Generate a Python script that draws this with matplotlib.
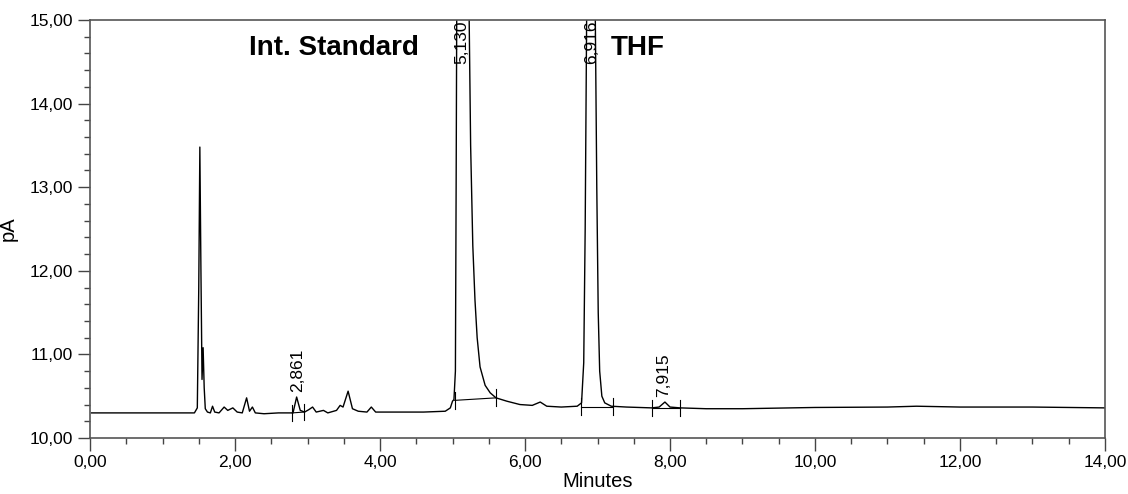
import matplotlib
matplotlib.use('Agg')
import matplotlib.pyplot as plt
from matplotlib.ticker import MultipleLocator

plt.rcParams['font.family'] = ['Liberation Sans', 'DejaVu Sans']

# Chromatogram trace (minutes, pA)
time_min = [0.02, 0.40, 0.80, 1.20, 1.44, 1.48, 1.50, 1.515, 1.53, 1.545, 1.56, 1.575,
            1.59, 1.62, 1.66, 1.69, 1.72, 1.78, 1.85, 1.90, 1.97, 2.03, 2.10, 2.16,
            2.20, 2.24, 2.28, 2.40, 2.60, 2.80, 2.85, 2.90, 2.96, 3.02, 3.07, 3.12,
            3.22, 3.28, 3.40, 3.45, 3.49, 3.56, 3.62, 3.70, 3.82, 3.88, 3.94, 4.20,
            4.60, 4.90, 4.97, 5.00, 5.02, 5.04, 5.05, 5.06, 5.10, 5.15, 5.20, 5.23,
            5.25, 5.28, 5.31, 5.34, 5.38, 5.45, 5.52, 5.60, 5.75, 5.93, 6.10, 6.21,
            6.30, 6.50, 6.72, 6.78, 6.81, 6.83, 6.85, 6.88, 6.92, 6.95, 6.97, 6.99,
            7.01, 7.03, 7.06, 7.10, 7.19, 7.40, 7.75, 7.85, 7.93, 8.00, 8.14, 8.50,
            9.00, 10.00, 11.00, 11.40, 12.00, 13.00, 14.00]
signal_pa = [10.30, 10.30, 10.30, 10.30, 10.30, 10.36, 11.80, 13.48, 12.00, 10.70, 11.08, 10.60,
             10.35, 10.31, 10.30, 10.38, 10.31, 10.30, 10.37, 10.33, 10.36, 10.31, 10.30, 10.48,
             10.32, 10.37, 10.30, 10.29, 10.30, 10.30, 10.49, 10.33, 10.31, 10.34, 10.37, 10.31,
             10.33, 10.30, 10.33, 10.39, 10.37, 10.56, 10.35, 10.32, 10.31, 10.37, 10.31, 10.31,
             10.31, 10.32, 10.36, 10.44, 10.46, 10.80, 13.00, 15.50, 17.50, 17.80, 16.50, 15.00,
             13.50, 12.30, 11.65, 11.20, 10.85, 10.63, 10.54, 10.48, 10.44, 10.40, 10.39, 10.43,
             10.38, 10.37, 10.38, 10.42, 10.90, 12.50, 15.00, 16.50, 17.00, 16.30, 15.00, 13.00,
             11.50, 10.80, 10.50, 10.42, 10.38, 10.37, 10.36, 10.37, 10.43, 10.37, 10.36, 10.35,
             10.35, 10.365, 10.37, 10.38, 10.37, 10.37, 10.36]

# Integration baselines: start/end time and level
base_start_t = [2.79, 5.03, 6.77, 7.75]
base_end_t = [2.95, 5.60, 7.21, 8.14]
base_start_y = [10.30, 10.45, 10.375, 10.36]
base_end_y = [10.31, 10.48, 10.375, 10.36]

# Retention time labels
rt_values = [2.861, 5.130, 6.916, 7.915]
rt_text = ['2,861', '5,130', '6,916', '7,915']
rt_label_y = [10.55, 15.0, 15.0, 10.49]
rt_label_va = ['bottom', 'top', 'top', 'bottom']

x_ticks = [0, 2, 4, 6, 8, 10, 12, 14]
x_tick_labels = ['0,00', '2,00', '4,00', '6,00', '8,00', '10,00', '12,00', '14,00']
y_ticks = [10, 11, 12, 13, 14, 15]
y_tick_labels = ['10,00', '11,00', '12,00', '13,00', '14,00', '15,00']

fig = plt.figure(figsize=(11.28, 4.94), dpi=100)
ax = fig.add_axes([0.0798, 0.1134, 0.8998, 0.8461])

ax.plot(time_min, signal_pa, color='black', lw=1.0)

for t0, t1, y0, y1 in zip(base_start_t, base_end_t, base_start_y, base_end_y):
    ax.plot([t0, t1], [y0, y1], color='black', lw=0.8)
    ax.plot([t0, t0], [y0 - 0.1, y0 + 0.1], color='black', lw=0.8)
    ax.plot([t1, t1], [y1 - 0.1, y1 + 0.1], color='black', lw=0.8)

for t, txt, ly, va in zip(rt_values, rt_text, rt_label_y, rt_label_va):
    ax.text(t, ly, txt, rotation=90, ha='center', va=va, fontsize=12.5)

ax.text(3.37, 14.66, 'Int. Standard', fontsize=20, fontweight='bold', ha='center', va='center')
ax.text(7.56, 14.66, 'THF', fontsize=20, fontweight='bold', ha='center', va='center')

ax.set_xlim(0, 14)
ax.set_ylim(10, 15)
ax.set_xticks(x_ticks)
ax.set_xticklabels(x_tick_labels)
ax.set_yticks(y_ticks)
ax.set_yticklabels(y_tick_labels)
ax.xaxis.set_minor_locator(MultipleLocator(0.5))
ax.yaxis.set_minor_locator(MultipleLocator(0.2))
ax.tick_params(which='major', length=9, width=1, labelsize=12.5, color='#444444')
ax.tick_params(which='minor', length=4, width=1, color='#444444')
for sp in ax.spines.values():
    sp.set_color('#555555')
    sp.set_linewidth(1.2)

ax.set_xlabel('Minutes', fontsize=14.5, labelpad=1)
ax.set_ylabel('pA', fontsize=14.5, labelpad=8)

fig.savefig('out.png', dpi=100)
